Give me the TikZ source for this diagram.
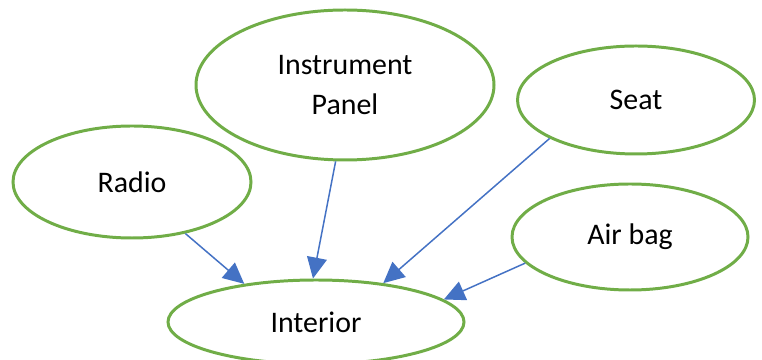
\documentclass[tikz,border=0pt]{standalone}
\usepackage{fontspec}
\setmainfont{Carlito}
\usetikzlibrary{arrows.meta,shapes.geometric}
\definecolor{partgreen}{RGB}{112,173,71}
\definecolor{linkblue}{RGB}{68,114,196}
\begin{document}
\begin{tikzpicture}
        [part/.style={ellipse, draw=partgreen, line width=1.7pt, inner sep=0pt, font=\fontsize{17}{22.7}\selectfont, align=center},
        link/.style={draw=linkblue, line width=0.85pt, -{Triangle[length=0.42cm,width=0.40cm]}}]

        \useasboundingbox (0,0) rectangle (15.24,-7.2);

        \node[part, minimum width=5.96cm, minimum height=3.0cm] (panel) at (6.90,-1.70) {Instrument\\Panel};
        \node[part, minimum width=4.74cm, minimum height=2.16cm] (seat) at (12.72,-2.00) {Seat};
        \node[part, minimum width=4.76cm, minimum height=2.24cm] (radio) at (2.64,-3.64) {Radio};
        \node[part, minimum width=4.72cm, minimum height=2.12cm] (airbag) at (12.60,-4.74) {Air bag};
        \node[part, minimum width=5.92cm, minimum height=1.68cm] (interior) at (6.32,-6.44) {Interior};

        % parts point to the interior
        \draw[link] (radio.-44) -- (interior.152);
        \draw[link] (panel.-97) -- (interior.94);
        \draw[link] (seat.-156) -- (interior.30);
        \draw[link] (airbag.-166) -- (interior.10);

        \end{tikzpicture}
\end{document}
